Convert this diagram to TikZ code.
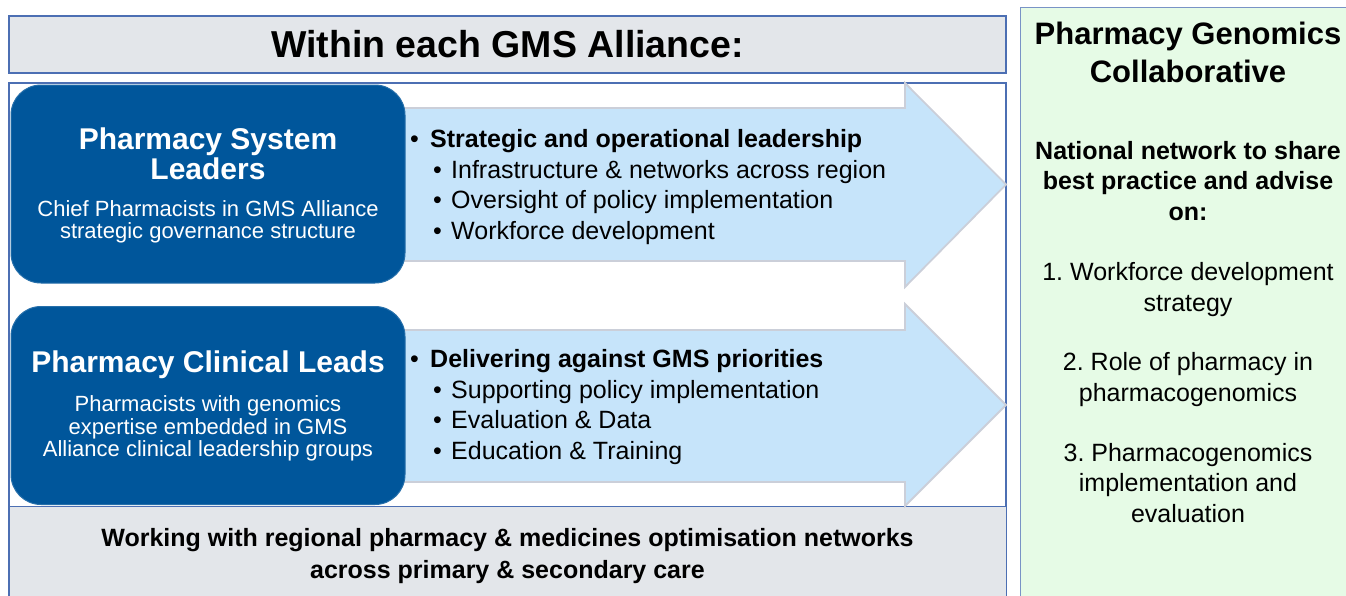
\documentclass[tikz,border=0pt]{standalone}
\usepackage{fontspec}
\setmainfont{Liberation Sans}
\definecolor{leadblue}{HTML}{00569B}
\definecolor{pointerblue}{HTML}{C6E4FA}
\definecolor{pointeredge}{HTML}{CBCFD9}
\definecolor{panelgray}{HTML}{E3E6EA}
\definecolor{rimblue}{HTML}{4C6FB3}
\definecolor{mint}{HTML}{E6FBE6}
\newcommand{\duty}[1]{\makebox[20pt][l]{\textbullet}\textbf{#1}}
\newcommand{\subduty}[1]{\hspace{23pt}\makebox[18pt][l]{\textbullet}#1}

\begin{document}
\begin{tikzpicture}[x=1pt,y=-1pt,
    rim/.style={draw=rimblue,line width=1.2pt},
    lead/.style={fill=leadblue,draw=leadblue!85!white,line width=1pt,rounded corners=30pt,
        minimum width=394pt,minimum height=198pt},
    pointer/.style={fill=pointerblue,draw=pointeredge,line width=1.8pt,line join=miter},
    leadname/.style={white,align=center,font=\fontsize{30}{30}\selectfont\bfseries},
    leadrole/.style={white,align=center,font=\fontsize{22}{22.5}\selectfont},
    duties/.style={anchor=west,align=left,inner sep=0pt,font=\fontsize{25}{30.5}\selectfont}]
    \useasboundingbox (0,0) rectangle (1346,595);
    \clip (0,0) rectangle (1346,595);

    \node[rim,draw=rimblue!75!white,fill=mint,anchor=north west,minimum width=340pt,
        minimum height=600pt] (pgc) at (1020,7) {};
    \node[rim,fill=panelgray,minimum width=997pt,minimum height=57pt] (heading) at (507.5,44.5)
        {\fontsize{37.5}{40}\selectfont\bfseries Within each GMS Alliance:};
    \draw[rim,fill=white] (9,83) rectangle (1006,610);
    \node[rim,fill=panelgray,anchor=north west,minimum width=997pt,minimum height=100pt] (networks) at (9,506) {};

    \draw[pointer] (400,108) -- (905,108) -- (905,83) -- (1006,184.5) -- (905,287) -- (905,261) -- (400,261) -- cycle;
    \draw[pointer] (400,330) -- (905,330) -- (905,304) -- (1006,405) -- (905,506) -- (905,482) -- (400,482) -- cycle;

    \node[lead] (sysbox) at (208,184) {};
    \node[lead] (clinbox) at (208,405.5) {};
    \node[leadname] (sysname) at (208,154) {Pharmacy System\\Leaders};
    \node[leadrole] (sysrole) at (208,222) {Chief Pharmacists in GMS Alliance\\strategic governance structure};
    \node[leadname] (clinname) at (208,365) {Pharmacy Clinical Leads};
    \node[leadrole] (clinrole) at (208,428.5) {Pharmacists with genomics\\expertise embedded in GMS\\Alliance clinical leadership groups};

    \node[duties] (sysduties) at (410,187) {\duty{Strategic and operational leadership}\\
        \subduty{Infrastructure \& networks across region}\\
        \subduty{Oversight of policy implementation}\\
        \subduty{Workforce development}};
    \node[duties] (clinduties) at (410,407) {\duty{Delivering against GMS priorities}\\
        \subduty{Supporting policy implementation}\\
        \subduty{Evaluation \& Data}\\
        \subduty{Education \& Training}};

    \node[align=center,font=\fontsize{25}{32}\selectfont\bfseries] (networktext) at (507.5,556)
        {Working with regional pharmacy \& medicines optimisation networks\\across primary \& secondary care};

    \node[align=center,font=\fontsize{31}{38}\selectfont\bfseries] (pgctitle) at (1188,52) {Pharmacy Genomics\\Collaborative};
    \node[align=center,font=\fontsize{25}{30.7}\selectfont] (pgcbody) at (1188,332)
        {\textbf{National network to share}\\\textbf{best practice and advise}\\\textbf{on:}\\[29pt]
        1.\ Workforce development\\strategy\\[29pt]
        2.\ Role of pharmacy in\\pharmacogenomics\\[29pt]
        3.\ Pharmacogenomics\\implementation and\\evaluation};
\end{tikzpicture}
\end{document}
